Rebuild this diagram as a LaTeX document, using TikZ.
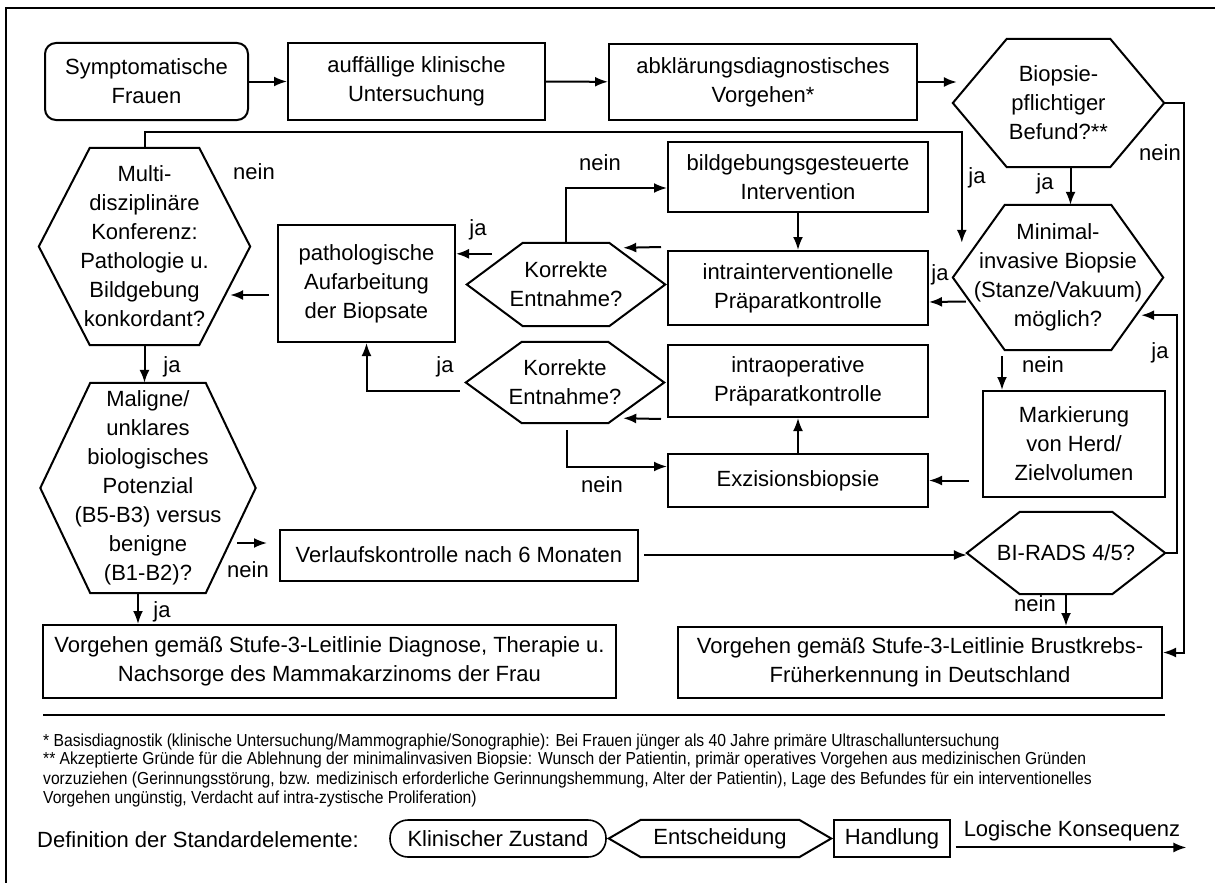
\documentclass[tikz,border=0pt]{standalone}
\usepackage{fontspec}
\setmainfont{Liberation Sans}
\newfontfamily\notefont[FakeStretch=0.9]{Liberation Sans}
\usetikzlibrary{arrows.meta,calc}
\newcommand{\hexa}[2]{\draw[line width=2pt] (#1.west) -- ([xshift=#2]#1.north west) -- ([xshift=-#2]#1.north east) -- (#1.east) -- ([xshift=-#2]#1.south east) -- ([xshift=#2]#1.south west) -- cycle;}
\begin{document}
\begin{tikzpicture}[x=1pt,y=-1pt,
>={Latex[length=13pt,width=10pt]},
every node/.style={align=center,inner sep=0pt,font=\fontsize{22}{29}\selectfont},
stepbox/.style={draw,line width=2pt},
statebox/.style={stepbox,rounded corners=11pt},
decide/.style={},
conn/.style={->,line width=2pt},
note/.style={anchor=west,align=left,font=\notefont\fontsize{17.4}{19.5}\selectfont}]

\useasboundingbox (0,0) rectangle (1215,883);
\draw[line width=2.2pt] (6,883) -- (6,8) -- (1215,8);

\node[statebox,minimum width=203,minimum height=77] (sympt) at (146.5,81.5) {Symptomatische\\Frauen};
\node[stepbox,minimum width=257,minimum height=76] (auff) at (416.5,81.5) {auffällige klinische\\Untersuchung};
\node[stepbox,minimum width=308,minimum height=76] (abkl) at (763,82) {abklärungsdiagnostisches\\Vorgehen*};
\node[decide,minimum width=211,minimum height=128] (biop) at (1058.5,103) {Biopsie-\\pflichtiger\\Befund?**};
\hexa{biop}{54pt}

\node[decide,minimum width=211,minimum height=197] (multi) at (144.5,246.5) {Multi-\\disziplinäre\\Konferenz:\\Pathologie u.\\Bildgebung\\konkordant?};
\hexa{multi}{51pt}
\node[stepbox,minimum width=177,minimum height=117] (patho) at (366.5,283.5) {pathologische\\Aufarbeitung\\der Biopsate};
\node[decide,minimum width=198,minimum height=83] (korr1) at (566,284.5) {Korrekte\\Entnahme?};
\hexa{korr1}{56pt}
\node[stepbox,minimum width=260,minimum height=70] (bildg) at (798,177) {bildgebungsgesteuerte\\Intervention};
\node[stepbox,minimum width=260,minimum height=74] (intrai) at (798,288) {intrainterventionelle\\Präparatkontrolle};
\node[decide,minimum width=210,minimum height=145] (minim) at (1058,277.5) {Minimal-\\invasive Biopsie\\(Stanze/Vakuum)\\möglich?};
\hexa{minim}{52pt}

\node[decide,minimum width=198,minimum height=81] (korr2) at (565,382.5) {Korrekte\\Entnahme?};
\hexa{korr2}{56pt}
\node[stepbox,minimum width=260,minimum height=72] (intrao) at (798,381) {intraoperative\\Präparatkontrolle};
\node[stepbox,minimum width=260,minimum height=53] (exzis) at (798,480.5) {Exzisionsbiopsie};
\node[stepbox,minimum width=182,minimum height=106] (mark) at (1074,444) {Markierung\\von Herd/\\Zielvolumen};
\node[decide,minimum width=215,minimum height=210] (malig) at (148,488) {Maligne/\\unklares\\biologisches\\Potenzial\\(B5-B3) versus\\benigne\\(B1-B2)?};
\hexa{malig}{50pt}
\node[stepbox,minimum width=358,minimum height=51] (verl) at (459,555) {Verlaufskontrolle nach 6 Monaten};
\node[decide,minimum width=198,minimum height=82] (birads) at (1066,553) {BI-RADS 4/5?};
\hexa{birads}{53pt}
\node[stepbox,minimum width=573,minimum height=73] (endl) at (329.5,661.5) {Vorgehen gemäß Stufe-3-Leitlinie Diagnose, Therapie u.\\Nachsorge des Mammakarzinoms der Frau};
\node[stepbox,minimum width=484,minimum height=71] (endr) at (920,662.5) {Vorgehen gemäß Stufe-3-Leitlinie Brustkrebs-\\Früherkennung in Deutschland};

\coordinate (mtop) at ($(minim.north west)+(9,38)$);
\coordinate (mbot) at ($(minim.south east)+(-22,-35)$);
\coordinate (k1j) at ($(korr1.north west)+(25,11)$);
\coordinate (pm) at ($(patho.west)+(-8,11.5)$);

\draw[conn] (sympt) -- (auff);
\draw[conn] (auff) -- (abkl);
\draw[conn] (abkl.east) -- ($(abkl.east -| biop.west)+(4,0)$);
\draw[conn] ($(biop.south)+(12,0)$) -- ($(biop.south |- minim.north)+(12,0)$);
\draw[conn] (biop.east) -- ++(20,0) |- ($(endr.east)+(0,-10)$);
\draw[conn] (multi.north) -- ++(0,-16) -| (mtop);
\draw[conn] (korr1.north) |- ($(bildg.west)+(0,11)$);
\draw[conn] (bildg) -- (intrai);
\draw[conn] ($(intrai.north west)+(-6,-3)$) -- ($(korr1.north east)+(-42,5)$);
\draw[conn] (k1j) -- (k1j -| patho.east);
\draw[conn] (pm) -- ($(pm -| multi.east)+(-20,0)$);
\draw[conn] (multi.south) -- (multi.south |- malig.north);
\draw[conn] ($(korr2.west)+(-6,8)$) -| (patho.south);
\draw[conn] ($(intrao.south west)+(-6,1)$) -- ($(korr2.south east)+(-41,-5)$);
\draw[conn] (exzis) -- (intrao);
\draw[conn] ($(korr2.south)+(2,7)$) |- ($(exzis.west)+(0,-14)$);
\draw[conn] ($(minim.west)+(13,24)$) -- ($(intrai.east)+(0,14)$);
\draw[conn] ($(mark.north west)+(20,-34)$) -- ($(mark.north west)+(20,0)$);
\draw[conn] ($(mark.west |- exzis.east)+(-13,0)$) -- (exzis.east);
\draw[conn] ($(verl.east)+(5,0)$) -- (verl.east -| birads.west);
\draw[conn] ($(verl.west)+(-42,-12)$) -- ($(verl.west)+(-12,-12)$);
\draw[conn] ($(malig.south)+(-10,0)$) -- ($(malig.south |- endl.north)+(-10,0)$);
\draw[conn] (birads.east) -- ++(12,0) |- (mbot);
\draw[conn] (birads.south) -- (birads.south |- endr.north);

\node (nein1) at (254,172) {nein};
\node (ja1) at (172,367) {ja};
\node (nein2) at (600,163) {nein};
\node (ja2) at (478,230) {ja};
\node (ja3) at (445,367) {ja};
\node (nein3) at (602,485) {nein};
\node (ja4) at (977,178) {ja};
\node (ja5) at (1045,184) {ja};
\node (nein4) at (1160,153) {nein};
\node (ja6) at (940,275) {ja};
\node (nein5) at (1043,365) {nein};
\node (ja7) at (1160,353) {ja};
\node (nein6) at (1035,604) {nein};
\node (nein7) at (248,570) {nein};
\node (ja8) at (162,612) {ja};

\draw[line width=1.6pt] (43,715) -- (1165,715);
\node[note] (fn1) at (43,742) {* Basisdiagnostik (klinische Untersuchung/Mammographie/Sonographie): Bei Frauen jünger als 40 Jahre primäre Ultraschalluntersuchung};
\node[note,anchor=north west] (fn2) at (43,752) {** Akzeptierte Gründe für die Ablehnung der minimalinvasiven Biopsie: Wunsch der Patientin, primär operatives Vorgehen aus medizinischen Gründen\\vorzuziehen (Gerinnungsstörung, bzw. medizinisch erforderliche Gerinnungshemmung, Alter der Patientin), Lage des Befundes für ein interventionelles\\Vorgehen ungünstig, Verdacht auf intra-zystische Proliferation)};

\node[anchor=west] (defn) at (37,840) {Definition der Standardelemente:};
\node[stepbox,line width=1.6pt,rounded corners=18pt,minimum width=216,minimum height=37] (lklin) at (498,838.5) {Klinischer Zustand};
\node[decide,minimum width=222,minimum height=37] (lent) at (720,838.5) {Entscheidung};
\hexa{lent}{32pt}
\node[stepbox,line width=1.6pt,minimum width=116,minimum height=37] (lhand) at (892,838.5) {Handlung};
\node (lkons) at (1072,831) {Logische Konsequenz};
\draw[conn] ($(lkons.south west)+(-8,6)$) -- ($(lkons.south east)+(6,6)$);
\end{tikzpicture}
\end{document}
